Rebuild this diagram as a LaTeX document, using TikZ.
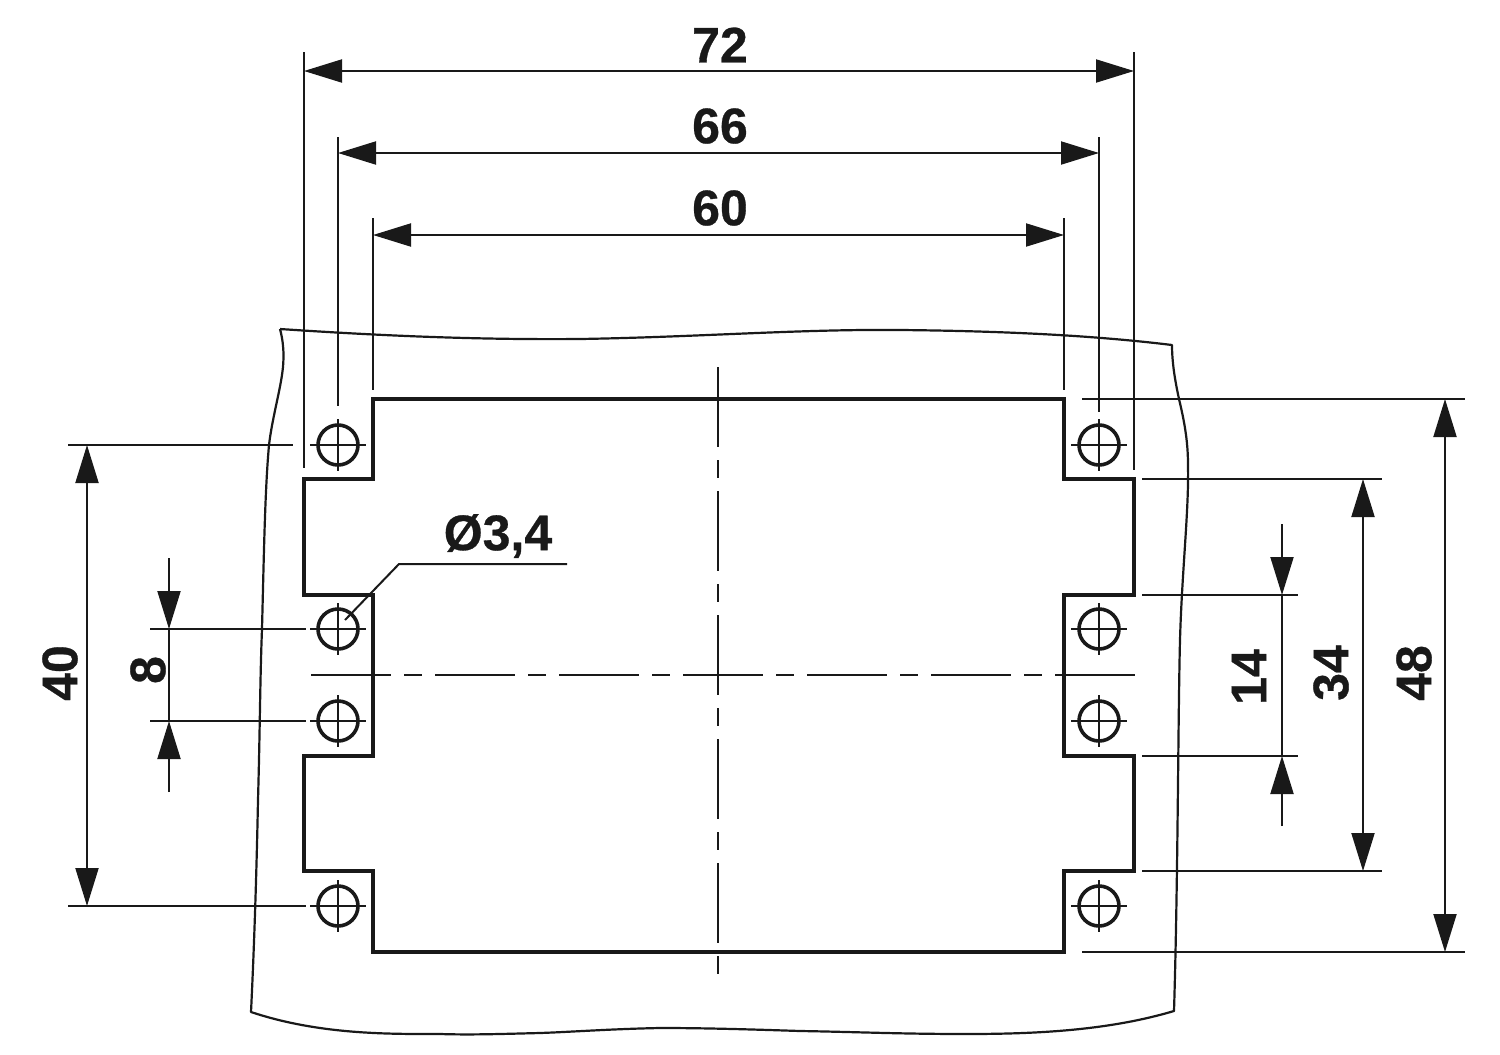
\documentclass[tikz,border=0pt]{standalone}
\usepackage{fontspec}
\setmainfont{Liberation Sans}[BoldFeatures={FakeBold=0.6}]
\usetikzlibrary{arrows.meta}
\tikzset{
  x=0.5pt,y=-0.5pt,
  thinln/.style={line width=1pt,draw=black!90},
  outl/.style={line width=1.1pt,draw=black!90},
  cutout/.style={line width=2.2pt,draw=black!90,line join=miter},
  holeln/.style={line width=1.8pt,draw=black!90},
  crossln/.style={line width=1.1pt,draw=black!90},
  centreln/.style={line width=1.1pt,draw=black!90,dash pattern=on 40pt off 6.5pt on 9pt off 6.5pt},
  dimboth/.style={thinln,{Triangle[length=19pt,width=11.5pt,fill=black!90,inset=0pt]}-{Triangle[length=19pt,width=11.5pt,fill=black!90,inset=0pt]}},
  dimone/.style={thinln,-{Triangle[length=19pt,width=11.5pt,fill=black!90,inset=0pt]}},
  dimtxt/.style={font=\bfseries\fontsize{25}{25}\selectfont,text=black!90,inner sep=0pt},
}
\begin{document}
\begin{tikzpicture}
\useasboundingbox (0,0) rectangle (1500,1055);
\fill[white] (0,0) rectangle (1500,1055);
% sheet outline
\draw[outl,line join=bevel] (280,329)
 .. controls (370,335) and (470,340) .. (580,339)
 .. controls (700,337) and (800,329) .. (900,330)
 .. controls (1000,331) and (1090,335) .. (1172,345)
 .. controls (1172,365) and (1176,385) .. (1179,399)
 .. controls (1184,420) and (1188,440) .. (1188,465)
 .. controls (1189,510) and (1182,570) .. (1180,640)
 .. controls (1178,720) and (1178,880) .. (1174,1011)
 .. controls (1110,1030) and (1040,1034) .. (967,1034)
 .. controls (900,1034) and (860,1032) .. (800,1031)
 .. controls (740,1029) and (700,1028) .. (660,1028)
 .. controls (610,1029) and (570,1032) .. (540,1033)
 .. controls (500,1034) and (470,1035) .. (440,1034)
 .. controls (390,1034) and (320,1035) .. (251,1012)
 .. controls (255,930) and (257,850) .. (258,800)
 .. controls (260,730) and (260,680) .. (262,629)
 .. controls (264,550) and (265,490) .. (269,445)
 .. controls (272,420) and (279,395) .. (282,375)
 .. controls (285,355) and (283,340) .. (280,329);
% cut-out
\draw[cutout] (373,399) -- (1064,399) -- (1064,479) -- (1134,479) -- (1134,595) -- (1064,595)
 -- (1064,756) -- (1134,756) -- (1134,871) -- (1064,871) -- (1064,952) -- (373,952)
 -- (373,871) -- (304,871) -- (304,756) -- (373,756) -- (373,595) -- (304,595)
 -- (304,479) -- (373,479) -- cycle;
% centre lines
\draw[centreln] (718,367) -- (718,974);
\draw[centreln] (311,675) -- (1135,675);
% holes
\foreach \hx in {338,1099} \foreach \hy in {445,629,721,906}{
  \draw[holeln] (\hx,\hy) circle[radius=20];
  \draw[crossln] (\hx-28,\hy) -- (\hx+28,\hy);
  \draw[crossln] (\hx,\hy-26) -- (\hx,\hy+26);
}
% extension lines top
\draw[thinln] (304,52) -- (304,468);
\draw[thinln] (338,137) -- (338,406);
\draw[thinln] (373,218) -- (373,390);
\draw[thinln] (1064,218) -- (1064,390);
\draw[thinln] (1099,137) -- (1099,412);
\draw[thinln] (1134,52) -- (1134,470);
% extension lines left
\draw[thinln] (68,445) -- (293,445);
\draw[thinln] (68,906) -- (306,906);
\draw[thinln] (150,629) -- (306,629);
\draw[thinln] (150,721) -- (306,721);
% extension lines right
\draw[thinln] (1082,399) -- (1465,399);
\draw[thinln] (1082,952) -- (1465,952);
\draw[thinln] (1142,479) -- (1382,479);
\draw[thinln] (1142,871) -- (1382,871);
\draw[thinln] (1142,595) -- (1298,595);
\draw[thinln] (1142,756) -- (1298,756);
% dimensions
\draw[dimboth] (304,71) -- (1134,71);
\draw[dimboth] (338,153) -- (1099,153);
\draw[dimboth] (373,235) -- (1064,235);
\draw[dimboth] (87,445) -- (87,906);
\draw[dimboth] (1445,399) -- (1445,952);
\draw[dimboth] (1363,479) -- (1363,871);
\draw[dimone] (169,558) -- (169,629);
\draw[dimone] (169,792) -- (169,721);
\draw[thinln] (169,629) -- (169,721);
\draw[dimone] (1282,524) -- (1282,595);
\draw[dimone] (1282,826) -- (1282,756);
\draw[thinln] (1282,595) -- (1282,756);
% leader
\coordinate (ldA) at (345,620);
\coordinate (ldB) at (399,564);
\coordinate (ldC) at (567,564);
\draw[thinln] (ldA) -- (ldB) -- (ldC);
% labels
\node[dimtxt] (t72) at (720,45) {72};
\node[dimtxt] (t66) at (720,126) {66};
\node[dimtxt] (t60) at (720,208) {60};
\node[dimtxt] (tdia) at (498,536) {Ø3,4};
\node[dimtxt,rotate=90] (t40) at (60,673) {40};
\node[dimtxt,rotate=90] (t8) at (148,670) {8};
\node[dimtxt,rotate=90] (t14) at (1249,677) {14};
\node[dimtxt,rotate=90] (t34) at (1331,673) {34};
\node[dimtxt,rotate=90] (t48) at (1414,673) {48};
\end{tikzpicture}
\end{document}
